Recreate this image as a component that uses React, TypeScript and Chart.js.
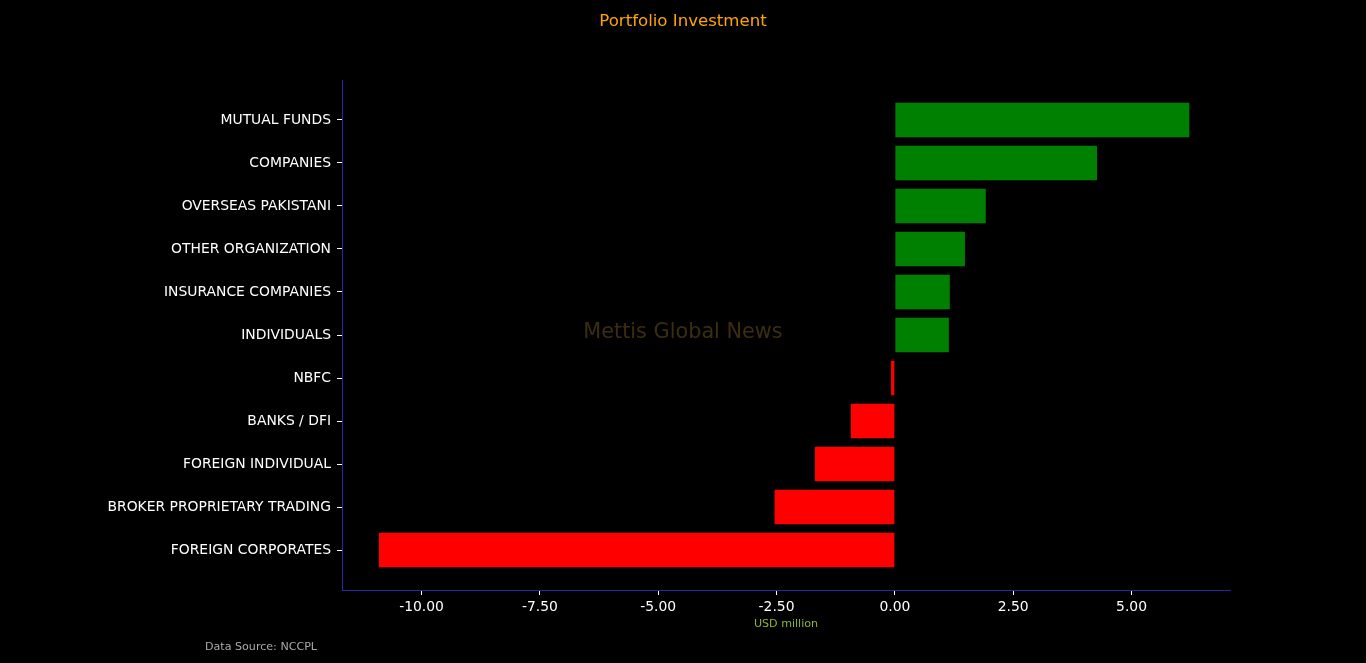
import React, { useEffect, useRef } from 'react';
import { Chart, registerables, type ChartConfiguration, type Plugin } from 'chart.js';

Chart.register(...registerables);

// Investor categories, top to bottom
const categories: string[] = [
  'MUTUAL FUNDS',
  'COMPANIES',
  'OVERSEAS PAKISTANI',
  'OTHER ORGANIZATION',
  'INSURANCE COMPANIES',
  'INDIVIDUALS',
  'NBFC',
  'BANKS / DFI',
  'FOREIGN INDIVIDUAL',
  'BROKER PROPRIETARY TRADING',
  'FOREIGN CORPORATES'
];

// Net flow, USD million
const netValues: number[] = [6.22, 4.27, 1.92, 1.48, 1.16, 1.14, -0.08, -0.93, -1.69, -2.54, -10.9];

const xTicks: number[] = [-10, -7.5, -5, -2.5, 0, 2.5, 5];

const FONT = "'DejaVu Sans', sans-serif";
const AXIS_BLUE = '#2828a8';

// Fixed texts: title, watermark, axis title, source line
const textPlugin: Plugin<'bar'> = {
  id: 'chartTexts',
  afterDraw(chart) {
    const { ctx, chartArea } = chart;
    ctx.save();
    ctx.textBaseline = 'middle';
    ctx.textAlign = 'center';

    ctx.fillStyle = '#ffa500';
    ctx.font = `16.6px ${FONT}`;
    ctx.fillText('Portfolio Investment', 683, 22);

    ctx.fillStyle = '#3c2d12';
    ctx.font = `20.8px ${FONT}`;
    ctx.fillText('Mettis Global News', 683, 333);

    ctx.fillStyle = '#8fb52f';
    ctx.font = `11.1px ${FONT}`;
    ctx.fillText('USD million', (chartArea.left + chartArea.right) / 2, 624);

    ctx.textAlign = 'left';
    ctx.fillStyle = '#aaaaaa';
    ctx.fillText('Data Source: NCCPL', 205, 647);
    ctx.restore();
  }
};

const App: React.FC = () => {
  const canvasRef = useRef<HTMLCanvasElement>(null);

  useEffect(() => {
    if (!canvasRef.current) return;

    const config: ChartConfiguration<'bar'> = {
      type: 'bar',
      data: {
        datasets: [
          {
            data: netValues.map((v, i) => ({ x: v, y: i })) as any,
            backgroundColor: netValues.map((v) => (v >= 0 ? '#008000' : '#ff0000')),
            borderWidth: 0,
            barPercentage: 0.8,
            categoryPercentage: 1
          }
        ]
      },
      options: {
        indexAxis: 'y',
        responsive: true,
        maintainAspectRatio: false,
        animation: false,
        layout: { padding: { top: 80, right: 136, bottom: 0, left: 0 } },
        plugins: {
          legend: { display: false },
          tooltip: { enabled: false },
          title: { display: false }
        },
        scales: {
          x: {
            type: 'linear',
            min: -11.68,
            max: 7.08,
            afterBuildTicks: (scale) => {
              scale.ticks = xTicks.map((value) => ({ value }));
            },
            afterFit: (scale) => {
              scale.height = 73;
            },
            ticks: {
              color: '#ffffff',
              font: { family: FONT, size: 13.9 },
              padding: 4,
              maxRotation: 0,
              autoSkip: false,
              callback: (v) => Number(v).toFixed(2)
            },
            grid: {
              drawOnChartArea: false,
              drawTicks: true,
              tickLength: 5,
              tickColor: '#ffffff'
            },
            border: { color: AXIS_BLUE, width: 1 }
          },
          y: {
            type: 'linear',
            reverse: true,
            offset: false,
            min: -0.93,
            max: 10.93,
            afterBuildTicks: (scale) => {
              scale.ticks = categories.map((_, i) => ({ value: i }));
            },
            afterFit: (scale) => {
              scale.width = 342;
            },
            ticks: {
              color: '#ffffff',
              font: { family: FONT, size: 13.9 },
              padding: 6,
              autoSkip: false,
              callback: (v) => categories[Number(v)] ?? ''
            },
            grid: {
              offset: false,
              drawOnChartArea: false,
              drawTicks: true,
              tickLength: 5,
              tickColor: '#ffffff'
            },
            border: { color: AXIS_BLUE, width: 1 }
          }
        }
      },
      plugins: [textPlugin]
    };

    const chart = new Chart(canvasRef.current, config);
    return () => chart.destroy();
  }, []);

  return (
    <div style={{ position: 'fixed', left: 0, top: 0, width: 1366, height: 663, background: '#000000' }}>
      <canvas ref={canvasRef} />
    </div>
  );
};

export default App;
